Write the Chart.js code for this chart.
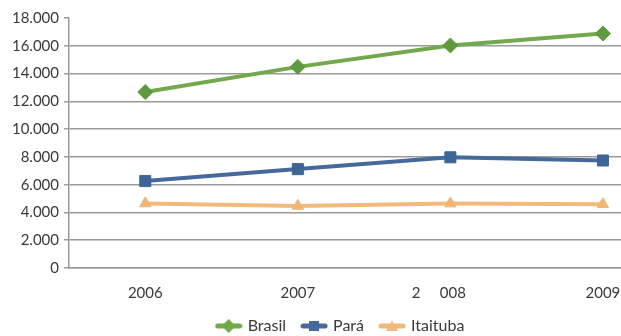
<!DOCTYPE html>
<html>
<head>
<meta charset="utf-8">
<script src="https://cdn.jsdelivr.net/npm/chart.js@4"></script>
<style>
  html, body { margin: 0; padding: 0; background: #ffffff; overflow: hidden; }
  #wrap { position: relative; width: 688px; height: 336px; }
</style>
</head>
<body>
<div id="wrap"><canvas id="chart"></canvas></div>
<script>
// Years on the category axis and the labels printed under them
const years = ['2006', '2007', '2008', '2009'];
const yearLabels = ['2006', '2007', '2     008      ', '2009'];

// Series values
const brasil = [12670, 14480, 16020, 16880];
const para = [6260, 7120, 7970, 7740];
const itaituba = [4650, 4470, 4640, 4590];

// Y axis ticks
const yTicks = [0, 2000, 4000, 6000, 8000, 10000, 12000, 14000, 16000, 18000];

const FONT = 'Lato, "Open Sans", sans-serif';
const TEXT = '#3a3a3a';
const GRID = '#9a9a9a';

// Legend symbol: short thick line with the series marker in the middle
function legendSymbol(color, marker) {
  const c = document.createElement('canvas');
  c.width = 28; c.height = 16;
  const g = c.getContext('2d');
  g.strokeStyle = color; g.lineWidth = 5; g.lineCap = 'round';
  g.beginPath(); g.moveTo(3, 8); g.lineTo(25, 8); g.stroke();
  g.fillStyle = color;
  g.beginPath();
  if (marker === 'diamond') {
    g.moveTo(14, 1); g.lineTo(21, 8); g.lineTo(14, 15); g.lineTo(7, 8);
  } else if (marker === 'square') {
    g.rect(9, 3, 10, 10);
  } else {
    g.moveTo(14, 2.5); g.lineTo(20, 13); g.lineTo(8, 13);
  }
  g.closePath(); g.fill();
  return c;
}

const series = [
  { label: 'Brasil', data: brasil, line: '#72a94c', point: '#5f9a3e', style: 'rectRot', r: 7.5, sym: 'diamond' },
  { label: 'Pará', data: para, line: '#46699b', point: '#3f6496', style: 'rect', r: 7.8, sym: 'square' },
  { label: 'Itaituba', data: itaituba, line: '#f2b97c', point: '#f0b676', style: 'triangle', r: 6.6, sym: 'triangle' }
];

const fmt = v => String(v).replace(/\B(?=(\d{3})+(?!\d))/g, '.');

new Chart(document.getElementById('chart'), {
  type: 'line',
  data: {
    labels: years,
    datasets: series.map(s => ({
      label: s.label,
      data: s.data,
      borderColor: s.line,
      backgroundColor: s.point,
      borderWidth: 4,
      pointStyle: s.style,
      pointRadius: s.r,
      pointHoverRadius: s.r,
      pointBackgroundColor: s.point,
      pointBorderColor: s.point,
      pointBorderWidth: 1,
      tension: 0,
      fill: false,
      legendSymbol: legendSymbol(s.line, s.sym)
    }))
  },
  options: {
    responsive: true,
    maintainAspectRatio: false,
    animation: false,
    layout: { padding: { top: 18, right: 6, left: 0, bottom: -8 } },
    plugins: {
      tooltip: { enabled: false },
      legend: {
        position: 'bottom',
        labels: {
          usePointStyle: true,
          pointStyleWidth: 22,
          padding: 17,
          color: TEXT,
          font: { family: FONT, size: 16 },
          generateLabels(chart) {
            return chart.data.datasets.map((ds, i) => ({
              text: ds.label,
              fillStyle: ds.borderColor,
              strokeStyle: ds.borderColor,
              lineWidth: 0,
              pointStyle: ds.legendSymbol,
              fontColor: TEXT,
              hidden: false,
              datasetIndex: i
            }));
          }
        }
      }
    },
    scales: {
      x: {
        offset: true,
        grid: { display: false, drawTicks: false },
        border: { display: true, color: GRID, width: 1.5 },
        ticks: {
          padding: 16,
          color: TEXT,
          font: { family: FONT, size: 15 },
          maxRotation: 0,
          autoSkip: false,
          callback: (v, i) => yearLabels[i]
        },
        afterFit(scale) { scale.height = 33; }
      },
      y: {
        min: 0,
        max: 18000,
        afterBuildTicks(scale) { scale.ticks = yTicks.map(v => ({ value: v })); },
        grid: {
          color: ctx => (ctx.tick && ctx.tick.value === 18000) ? 'rgba(0,0,0,0)' : GRID,
          tickColor: GRID,
          lineWidth: 1.5,
          tickLength: 5,
          drawTicks: true
        },
        border: { display: true, color: GRID, width: 1.5 },
        ticks: {
          padding: 5,
          color: TEXT,
          font: { family: FONT, size: 15 },
          callback: v => fmt(v)
        },
        afterFit(scale) { scale.width = 69; }
      }
    }
  }
});
</script>
</body>
</html>
